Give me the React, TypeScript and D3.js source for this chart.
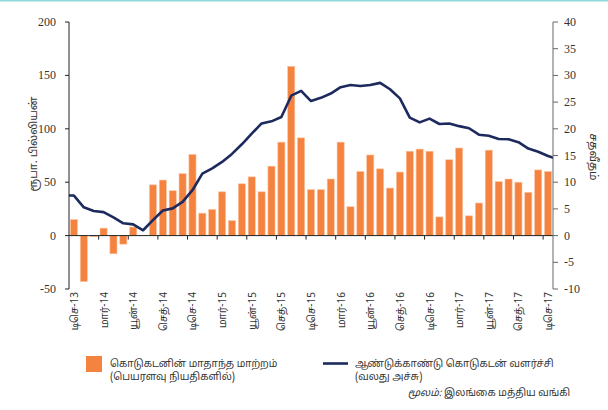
import { scaleLinear, line } from "d3";

// டிசெ-13 முதல் டிசெ-17 வரை மாதாந்த தரவு (49 மாதங்கள்)
const tickLabels = [
    "டிசெ-13", "மார்-14", "யூன்-14", "செத்-14",
    "டிசெ-14", "மார்-15", "யூன்-15", "செத்-15",
    "டிசெ-15", "மார்-16", "யூன்-16", "செத்-16",
    "டிசெ-16", "மார்-17", "யூன்-17", "செத்-17",
    "டிசெ-17",
];

// கொடுகடனின் மாதாந்த மாற்றம் (ரூபா. பில்லியன்)
const monthlyChange = [
    15, -43, -1, 7, -17, -8, 8, 0, 47.5, 52, 42, 58, 76, 21, 24.5, 41, 14,
    48.5, 55, 41, 65, 87.5, 158.5, 91.5, 43, 43, 53, 87.5, 27, 60, 75.5, 62.5,
    44.5, 59.5, 79, 81, 79, 17.5, 71, 82, 18.5, 30.5, 80, 50.5, 53, 50, 40.5,
    61.5, 60,
];

// ஆண்டுக்காண்டு கொடுகடன் வளர்ச்சி (%)
const yoyGrowth = [
    7.5, 5.3, 4.6, 4.4, 3.4, 2.3, 2.1, 1.0, 2.9, 4.7, 5.1, 6.3, 8.5, 11.6,
    12.6, 13.8, 15.3, 17.1, 19.1, 21.0, 21.4, 22.2, 26.2, 27.1, 25.2, 25.8,
    26.6, 27.8, 28.2, 28.0, 28.2, 28.6, 27.4, 25.7, 22.1, 21.2, 21.9, 20.9,
    21.0, 20.5, 20.1, 18.9, 18.7, 18.1, 18.05, 17.5, 16.3, 15.7, 14.9,
];
// வரைபடத்தின் ஓரங்களில் வெட்டப்படும் முன்/பின் மாத மதிப்புகள்
const growthBefore = 7.5;
const growthAfter = 14.3;

const leftTicks = [-50, 0, 50, 100, 150, 200];
const rightTicks = [-10, -5, 0, 5, 10, 15, 20, 25, 30, 35, 40];

const W = 608;
const H = 410;
const L = 69;
const R = 553;
const T = 22;
const B = 289;

const serif = "'Liberation Serif', 'Times New Roman', serif";
const tamil = "'Noto Sans Tamil', 'Latha', 'Lohit Tamil', sans-serif";

export default function App() {
    const n = monthlyChange.length;
    const x = scaleLinear().domain([0, n]).range([L, R]);
    const yL = scaleLinear().domain([-50, 200]).range([B, T]);
    const yR = scaleLinear().domain([-10, 40]).range([B, T]);
    const bw = (x(1) - x(0)) * 0.72;

    const pts: [number, number][] = [
        [x(-0.5), yR(growthBefore)],
        ...yoyGrowth.map((v, i) => [x(i + 0.5), yR(v)] as [number, number]),
        [x(n + 0.5), yR(growthAfter)],
    ];
    const path = line()(pts) || "";

    const boundaries = [];
    for (let i = 3; i <= 48; i += 3) boundaries.push(i);

    return (
        <svg
            width={W}
            height={H}
            style={{ position: "absolute", left: 0, top: 0, background: "#fff" }}
        >
            <defs>
                <clipPath id="plot">
                    <rect x={L} y={T - 5} width={R - L} height={B - T + 10} />
                </clipPath>
            </defs>
            <rect x={0} y={0} width={W} height={1.5} fill="#8fd9d9" />

            {/* பட்டைகள் */}
            {monthlyChange.map((v, i) => (
                <rect
                    key={i}
                    x={x(i + 0.5) - bw / 2}
                    y={yL(Math.max(0, v))}
                    width={bw}
                    height={Math.abs(yL(v) - yL(0))}
                    fill="#f58340"
                    stroke="#fbc3a0"
                    strokeWidth={0.6}
                />
            ))}

            {/* பூச்சிய அச்சு */}
            <line x1={L} x2={R} y1={yL(0)} y2={yL(0)} stroke="#222" strokeWidth={1} />
            {boundaries.map((b) => (
                <line key={b} x1={x(b)} x2={x(b)} y1={yL(0)} y2={yL(0) + 4} stroke="#222" />
            ))}

            <path
                d={path}
                fill="none"
                stroke="#1c2a5e"
                strokeWidth={2.6}
                strokeLinejoin="round"
                clipPath="url(#plot)"
            />

            {/* இடது அச்சு */}
            <line x1={L} x2={L} y1={T} y2={B} stroke="#222" />
            {leftTicks.map((t) => (
                <g key={t}>
                    <line x1={L - 4} x2={L} y1={yL(t)} y2={yL(t)} stroke="#222" />
                    <text
                        x={L - 13}
                        y={yL(t) + 4}
                        textAnchor="end"
                        fontSize={12}
                        fontFamily={serif}
                        fill="#333"
                    >
                        {t}
                    </text>
                </g>
            ))}

            {/* வலது அச்சு */}
            <line x1={R} x2={R} y1={T} y2={B} stroke="#666" />
            {rightTicks.map((t) => (
                <g key={t}>
                    <line x1={R} x2={R + 5} y1={yR(t)} y2={yR(t)} stroke="#666" />
                    <text
                        x={R + 11}
                        y={yR(t) + 4}
                        fontSize={12}
                        fontFamily={serif}
                        fill="#333"
                    >
                        {t}
                    </text>
                </g>
            ))}

            {/* x அச்சு பெயர்கள் */}
            {tickLabels.map((s, k) => {
                const cx = x(k * 3 + 0.5);
                return (
                    <text
                        key={s}
                        transform={`translate(${cx + 4},${B + 3}) rotate(-90)`}
                        textAnchor="end"
                        fontSize={10}
                        fontFamily={tamil}
                        fill="#333"
                    >
                        {s}
                    </text>
                );
            })}

            <text
                transform={`translate(37,144) rotate(-90)`}
                textAnchor="middle"
                fontSize={11}
                fontFamily={tamil}
                fill="#333"
            >
                ரூபா. பில்லியன்
            </text>
            <text
                transform={`translate(590,157) rotate(90)`}
                textAnchor="middle"
                fontSize={11}
                fontFamily={tamil}
                fill="#333"
            >
                சதவீதம்
            </text>

            {/* விளக்கம் */}
            <rect x={86} y={356} width={16} height={16} fill="#f58340" />
            <text x={110} y={367} fontSize={10} fontFamily={tamil} fill="#333">
                கொடுகடனின் மாதாந்த மாற்றம்
            </text>
            <text x={110} y={380} fontSize={10} fontFamily={tamil} fill="#333">
                (பெயரளவு நியதிகளில்)
            </text>
            <line x1={323} x2={348} y1={363.5} y2={363.5} stroke="#1c2a5e" strokeWidth={2.6} />
            <text x={355} y={367} fontSize={10} fontFamily={tamil} fill="#333">
                ஆண்டுக்காண்டு கொடுகடன் வளர்ச்சி
            </text>
            <text x={355} y={380} fontSize={10} fontFamily={tamil} fill="#333">
                (வலது அச்சு)
            </text>

            <text x={570} y={396} textAnchor="end" fontSize={10} fontFamily={tamil} fill="#333">
                <tspan fontStyle="italic">மூலம்:</tspan> இலங்கை மத்திய வங்கி
            </text>
        </svg>
    );
}
